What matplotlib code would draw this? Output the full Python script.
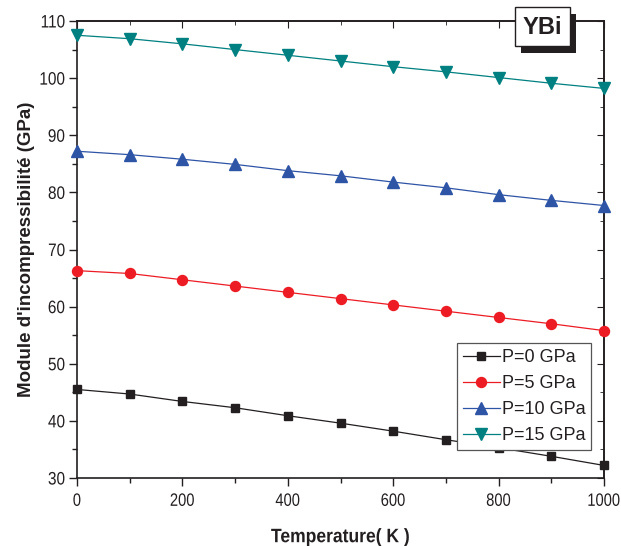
import matplotlib
matplotlib.use("Agg")
import matplotlib.pyplot as plt
from matplotlib.patches import Rectangle
from matplotlib.ticker import MultipleLocator
from matplotlib.patheffects import AbstractPathEffect
from matplotlib.transforms import Affine2D

temperature = [0, 100, 200, 300, 400, 500, 600, 700, 800, 900, 1000]
b_p0 = [45.5, 44.7, 43.4, 42.3, 40.9, 39.6, 38.2, 36.7, 35.3, 33.8, 32.2]
b_p5 = [66.3, 65.8, 64.7, 63.6, 62.5, 61.4, 60.3, 59.2, 58.1, 57.0, 55.8]
b_p10 = [87.2, 86.6, 85.8, 84.9, 83.8, 82.9, 81.8, 80.8, 79.6, 78.6, 77.7]
b_p15 = [107.5, 106.9, 106.0, 105.0, 104.0, 103.0, 102.0, 101.1, 100.1, 99.1, 98.2]
labels = ["P=0 GPa", "P=5 GPa", "P=10 GPa", "P=15 GPa"]


class Squeeze(AbstractPathEffect):
    """Rescale a text path (condensed look) around an anchor point."""
    def __init__(self, sx, sy=1.0, anchor='center', yanchor='base'):
        super().__init__()
        self.sx = sx
        self.sy = sy
        self.anchor = anchor
        self.yanchor = yanchor

    def draw_path(self, renderer, gc, tpath, affine, rgbFace=None):
        ext = tpath.get_extents()
        a = {'center': (ext.x0 + ext.x1) / 2, 'right': ext.x1, 'left': ext.x0}[self.anchor]
        b = {'base': 0.0, 'top': ext.y1}[self.yanchor]
        t = (Affine2D().translate(-a, -b).scale(self.sx, self.sy).translate(a, b)
             + affine)
        renderer.draw_path(gc, tpath, t, rgbFace)


plt.rcParams['font.family'] = ['Liberation Sans', 'DejaVu Sans']
ink = '#231f20'

W, H = 621, 546
fig = plt.figure(figsize=(W / 100, H / 100), dpi=100)
ax = fig.add_axes([77 / W, 68 / H, 527 / W, 457 / H])

series = [b_p0, b_p5, b_p10, b_p15]
colors = [ink, '#ed1c24', '#2e54a6', '#008080']
markers = ['s', 'o', '^', 'v']
msizes = [6.2, 7.2, 8, 8]
for vals, c, m, ms, lab in zip(series, colors, markers, msizes, labels):
    ax.plot(temperature, vals, color=c, marker=m, markersize=ms, lw=0.9,
            label=lab, clip_on=False, zorder=3)

ax.set_xlim(0, 1000)
ax.set_ylim(30, 110)
ax.xaxis.set_major_locator(MultipleLocator(200))
ax.xaxis.set_minor_locator(MultipleLocator(100))
ax.yaxis.set_major_locator(MultipleLocator(10))
ax.yaxis.set_minor_locator(MultipleLocator(5))
ax.tick_params(which='both', direction='out', top=False, right=False,
               colors=ink, width=1)
ax.tick_params(axis='y', labelsize=13)
ax.tick_params(axis='x', labelsize=10.6)
ax.tick_params(which='major', length=5.5)
ax.tick_params(which='minor', length=3.5)
ax.tick_params(axis='x', which='major', pad=5)
ax.tick_params(axis='y', which='major', pad=3)

# inward ticks on top and right
ax2 = ax.secondary_xaxis('top')
ax2.xaxis.set_major_locator(MultipleLocator(200))
ax2.xaxis.set_minor_locator(MultipleLocator(100))
ax2.tick_params(which='both', direction='in', labeltop=False, colors=ink)
ax2.tick_params(which='major', length=5)
ax2.tick_params(which='minor', length=3)
ay2 = ax.secondary_yaxis('right')
ay2.yaxis.set_major_locator(MultipleLocator(10))
ay2.yaxis.set_minor_locator(MultipleLocator(5))
ay2.tick_params(which='both', direction='in', labelright=False, colors=ink)
ay2.tick_params(which='major', length=5)
ay2.tick_params(which='minor', length=3)

for s in ax.spines.values():
    s.set_linewidth(1.2)
    s.set_color(ink)
for a2 in (ax2, ay2):
    for s in a2.spines.values():
        s.set_linewidth(1.2)
        s.set_color(ink)

xl = ax.set_xlabel("Temperature( K )", fontsize=14, fontweight='bold', color=ink)
ax.xaxis.set_label_coords(0.5, -0.112)
ax.set_ylabel("Module d'incompressibilité (GPa)", fontsize=13.5, fontweight='bold',
              color=ink)
ax.yaxis.set_label_coords(-0.08, 0.5)
xl.set_path_effects([Squeeze(0.9, anchor='center')])

leg = ax.legend(loc='upper left', bbox_to_anchor=(0.721, 0.295), borderaxespad=0,
                fancybox=False, edgecolor='#555555', framealpha=1,
                prop={'size': 13},
                handlelength=2.05, handletextpad=0.1, labelspacing=0.5,
                borderpad=0.32)
leg.get_frame().set_linewidth(0.9)
for t in leg.get_texts():
    t.set_color(ink)

# YBi label box with shadow
fig.patches.append(Rectangle(((515 + 6) / W, 1 - (46 + 7) / H), 55 / W, 39 / H,
                             transform=fig.transFigure, facecolor=ink,
                             edgecolor='none', zorder=5))
fig.patches.append(Rectangle((515 / W, 1 - 46 / H), 55 / W, 39 / H,
                             transform=fig.transFigure, facecolor='white',
                             edgecolor=ink, lw=1, zorder=6))
fig.text(542.5 / W, 1 - 27 / H, "YBi", fontsize=17, fontweight='bold',
         ha='center', va='center', color=ink, zorder=7)

fig.canvas.draw()
for lbl in ax.get_xticklabels():
    lbl.set_path_effects([Squeeze(1.0, 1.22, anchor='center', yanchor='top')])
for lbl in ax.get_yticklabels():
    lbl.set_path_effects([Squeeze(0.85, anchor='right')])

fig.savefig("out.png", dpi=100)
